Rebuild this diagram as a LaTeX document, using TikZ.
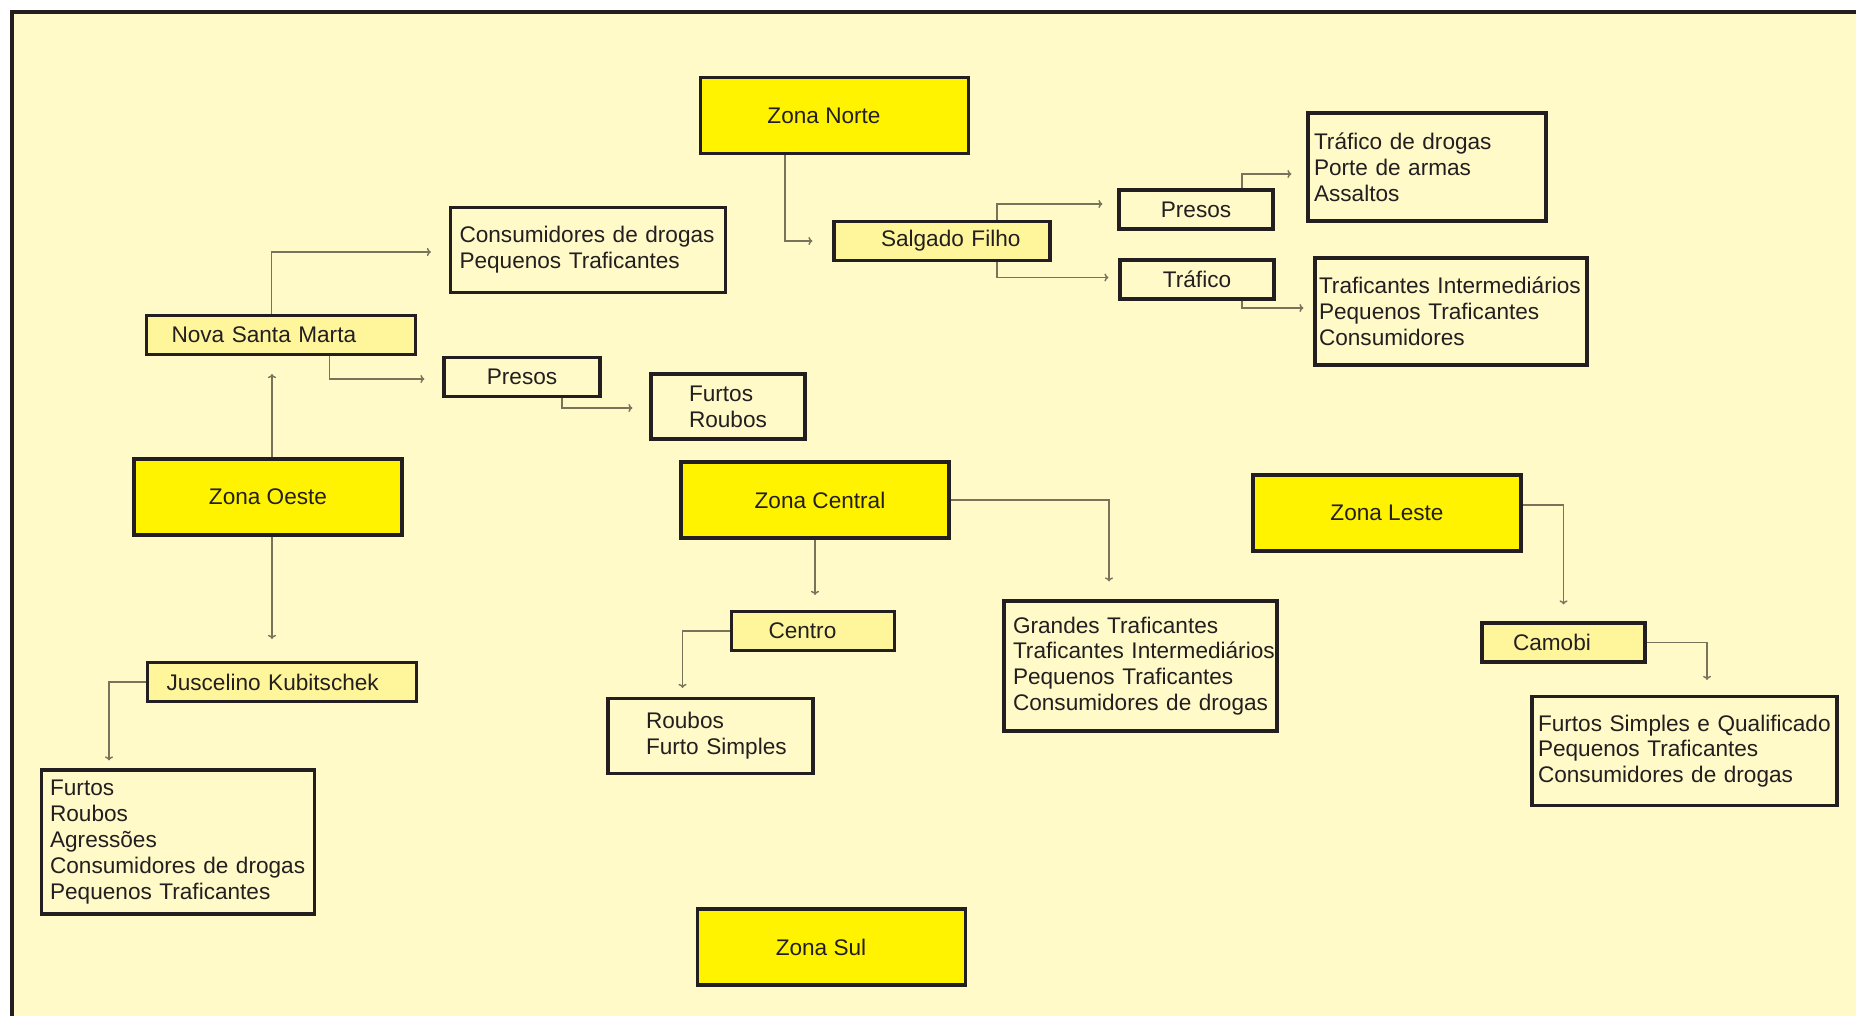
\documentclass[tikz,border=0pt]{standalone}
\usepackage{fontspec}
\setmainfont{Liberation Sans}
\usetikzlibrary{arrows.meta}
\hfuzz=30pt
\definecolor{cream}{RGB}{255,250,200}
\definecolor{zoneyellow}{RGB}{255,243,0}
\definecolor{subyellow}{RGB}{255,246,155}
\definecolor{inkdark}{RGB}{35,31,32}
\definecolor{linkgray}{RGB}{120,116,92}

\begin{document}
\begin{tikzpicture}[x=0.5pt,y=-0.5pt,
  every node/.style={font=\fontsize{11.3}{12.9}\selectfont,text=inkdark},
  zone/.style={draw=inkdark,line width=1.8pt,fill=zoneyellow,minimum width=134pt,minimum height=38pt},
  subzone/.style={draw=inkdark,line width=1.6pt,fill=subyellow,minimum height=19.5pt,align=left},
  smallbox/.style={draw=inkdark,line width=1.6pt,minimum width=77pt,minimum height=19.5pt},
  listbox/.style={draw=inkdark,line width=1.6pt,align=left},
  link/.style={draw=linkgray,line width=0.7pt,-{To[length=2pt,width=4pt]}}]
\useasboundingbox (0,0) rectangle (1856,1016);
\fill[white] (0,0) rectangle (1856,1016);
\draw[inkdark,line width=2.2pt,fill=cream] (12,12) rectangle (1880,1040);

\node[zone] (znorte) at (834.5,115.5) {Zona Norte\hspace*{10.5pt}};
\node[subzone,text width=61pt,inner xsep=23.5pt] (salgado) at (942,241) {\mbox{Salgado Filho}};
\node[smallbox] (presosn) at (1196,209.5) {Presos};
\node[smallbox] (trafico) at (1197,279.5) {Tráfico};
\node[listbox,text width=113pt,inner xsep=3pt,minimum height=54pt] (listn1) at (1427,167)
  {Tráfico de drogas\\Porte de armas\\Assaltos};
\node[listbox,text width=132pt,inner xsep=2pt,minimum height=53.5pt] (listn2) at (1451,311.5)
  {\mbox{Traficantes Intermediários}\\Pequenos Traficantes\\Consumidores};

\node[listbox,text width=128.5pt,inner xsep=4.5pt,minimum height=42.5pt] (listnsm) at (588,250)
  {\mbox{Consumidores de drogas}\\Pequenos Traficantes};
\node[subzone,text width=109.5pt,inner xsep=12.5pt] (nsm) at (281,335) {Nova Santa Marta};
\node[smallbox,minimum width=78pt] (presosw) at (522,377) {Presos};
\node[listbox,text width=39pt,inner xsep=19pt,minimum height=32.5pt] (listfr) at (728,406.5)
  {Furtos\\Roubos};
\node[zone] (zoeste) at (268,497) {Zona Oeste};
\node[subzone,text width=115.5pt,inner xsep=9.5pt] (jk) at (282,682) {\mbox{Juscelino Kubitschek}};
\node[listbox,text width=127.5pt,inner xsep=4.5pt,minimum height=72pt] (listjk) at (177.6,842)
  {Furtos\\Roubos\\Agressões\\\mbox{Consumidores de drogas}\\\mbox{Pequenos Traficantes}};

\node[zone] (zcentral) at (815,500) {\hspace*{5pt}Zona Central};
\node[subzone,text width=44.5pt,inner xsep=18.5pt] (centro) at (813,631) {Centro};
\node[listbox,text width=64.5pt,inner xsep=19pt,minimum height=37.5pt] (listct) at (710.5,736)
  {Roubos\\\mbox{Furto Simples}};
\node[listbox,text width=127.5pt,inner xsep=4.5pt,minimum height=65pt] (listcz) at (1140.5,666)
  {Grandes Traficantes\\\mbox{Traficantes Intermediários}\\Pequenos Traficantes\\\mbox{Consumidores de drogas}};

\node[zone] (zleste) at (1387,513) {Zona Leste};
\node[subzone,text width=50.5pt,inner xsep=15.5pt] (camobi) at (1563.5,642.5) {Camobi};
\node[listbox,text width=146.5pt,inner xsep=3pt,minimum height=54.5pt] (listcb) at (1684.5,751)
  {\mbox{Furtos Simples e Qualificado}\\Pequenos Traficantes\\\mbox{Consumidores de drogas}};

\node[zone] (zsul) at (831.5,947) {Zona Sul\hspace*{10.5pt}};

\draw[link,shorten >=10pt] ([xshift=-24.75pt]znorte.south) |- (salgado.west);
\draw[link,shorten >=7.5pt] ([xshift=27.5pt]salgado.north) |- ([yshift=2.75pt]presosn.west);
\draw[link,shorten >=5pt] ([xshift=27.5pt]salgado.south) |- ([yshift=1pt]trafico.west);
\draw[link,shorten >=7.5pt] ([xshift=23pt]presosn.north) |- ([yshift=-3.5pt]listn1.west);
\draw[link,shorten >=5pt] ([xshift=22.5pt]trafico.south) |- ([yshift=1.75pt]listn2.west);

\draw[link,shorten >=9pt] ([xshift=-4.75pt]nsm.north) |- ([yshift=-1pt]listnsm.west);
\draw[link,shorten >=9pt] ([xshift=24.25pt]nsm.south) |- ([yshift=-1pt]presosw.west);
\draw[link,shorten >=8.5pt] ([xshift=20pt]presosw.south) |- ([yshift=-0.75pt]listfr.west);
\draw[link,shorten >=9pt] ([xshift=2pt]zoeste.north) -- ([xshift=2pt]zoeste.north |- nsm.south);
\draw[link,shorten >=11pt] ([xshift=2pt]zoeste.south) -- ([xshift=2pt]zoeste.south |- jk.north);
\draw[link,shorten >=4pt] (jk.west) -| ([xshift=-34.3pt]listjk.north);

\draw[link,shorten >=7.5pt] (zcentral.south) -- (zcentral.south |- centro.north);
\draw[link,shorten >=9pt] (zcentral.east) -| ([xshift=-15.75pt]listcz.north);
\draw[link,shorten >=4.5pt] (centro.west) -| ([xshift=-14pt]listct.north);

\draw[link,shorten >=8.5pt] ([yshift=4pt]zleste.east) -| (camobi.north);
\draw[link,shorten >=7.5pt] (camobi.east) -| ([xshift=11.25pt]listcb.north);
\end{tikzpicture}
\end{document}
